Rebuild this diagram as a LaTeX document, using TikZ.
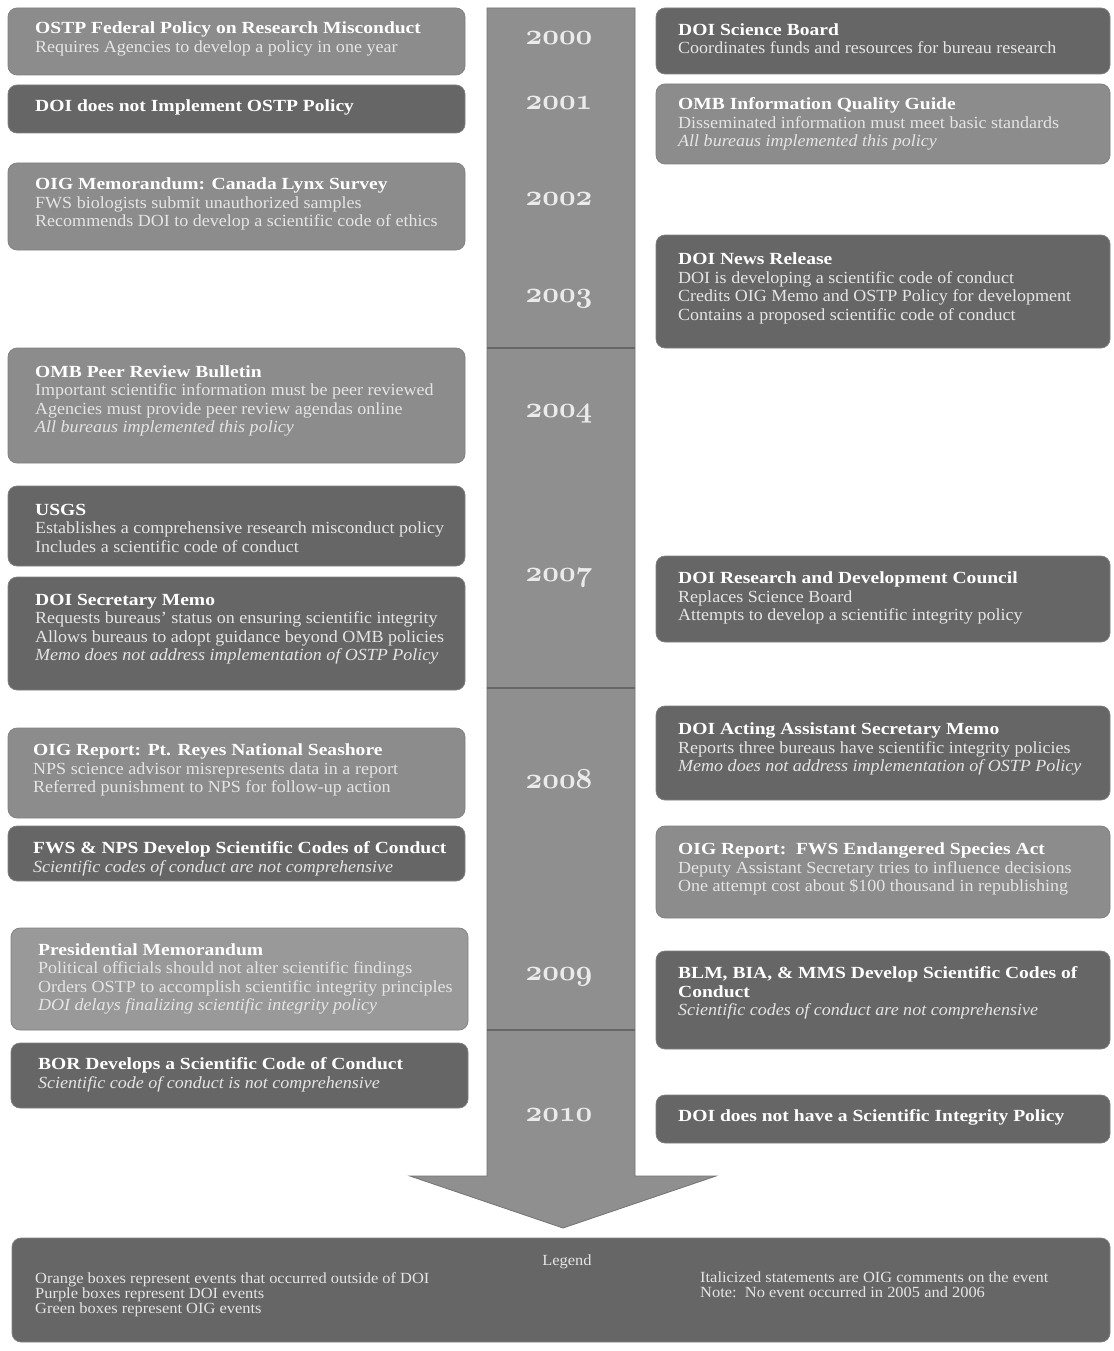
\documentclass[tikz,border=0pt]{standalone}
\usepackage{fontspec}
\setmainfont[FakeStretch=1.06, BoldFeatures={FakeStretch=1.15}]{Liberation Serif}
\DeclareFontFamily{OML}{yrs}{\skewchar\font=127}
\DeclareFontShape{OML}{yrs}{b}{it}{<-> cmmib10}{}
\definecolor{lightbox}{gray}{0.55}
\definecolor{presbox}{gray}{0.60}
\definecolor{darkbox}{gray}{0.40}
\definecolor{arrowc}{gray}{0.56}
\newcommand\yearfont{\fontsize{29}{29}\usefont{OML}{yrs}{b}{it}}
\newcommand\ttl[1]{{\bfseries\color{white}#1}}
\tikzset{
  x=1pt, y=-1pt,
  evbox/.style={rectangle, rounded corners=9pt, inner sep=0pt, outer sep=0pt, draw=black!50, line width=0.7pt},
  lightev/.style={evbox, fill=lightbox},
  presev/.style={evbox, fill=presbox},
  darkev/.style={evbox, fill=darkbox},
  evtext/.style={anchor=west, align=left, inner sep=0pt, text=black!10, font=\fontsize{17}{18.5}\selectfont},
  legtext/.style={anchor=north west, align=left, inner sep=0pt, text=black!10, font=\fontsize{15.5}{15}\selectfont},
  yr/.style={anchor=base, inner sep=0pt, text=black!8, font=\yearfont},
  arrowbody/.style={fill=arrowc, draw=black!55, line width=0.8pt},
  segline/.style={draw=black!60, line width=1.2pt},
}
\begin{document}
\begin{tikzpicture}
\useasboundingbox (0,0) rectangle (1113,1351);
\fill[white] (0,0) rectangle (1113,1351);

% timeline arrow
\draw[arrowbody] (487,8) -- (635,8) -- (635,1176) -- (716,1176) -- (563,1228) -- (410,1176) -- (487,1176) -- cycle;
\draw[segline] (487,348) -- (635,348);
\draw[segline] (487,688) -- (635,688);
\draw[segline] (487,1030) -- (635,1030);

% years
\node[yr] (y2000) at (559,45) {2000};
\node[yr] (y2001) at (559,110) {2001};
\node[yr] (y2002) at (559,205) {2002};
\node[yr] (y2003) at (559,302) {2003};
\node[yr] (y2004) at (559,417) {2004};
\node[yr] (y2007) at (559,581) {2007};
\node[yr] (y2008) at (559,788) {2008};
\node[yr] (y2009) at (559,980) {2009};
\node[yr] (y2010) at (559,1121) {2010};

% left column
\node[lightev, minimum width=457, minimum height=67] (L1) at (236.5,41.5) {};
\node[evtext] (t1) at ([xshift=27]L1.west |- 0,39) {\ttl{OSTP Federal Policy on Research Misconduct}\\Requires Agencies to develop a policy in one year};
\node[darkev, minimum width=457, minimum height=48] (L2) at (236.5,109) {};
\node[evtext] (t2) at ([xshift=27]L2.west |- 0,107) {\ttl{DOI does not Implement OSTP Policy}};
\node[lightev, minimum width=457, minimum height=87] (L3) at (236.5,206.5) {};
\node[evtext] (t3) at ([xshift=27]L3.west |- 0,204) {\ttl{OIG Memorandum: Canada Lynx Survey}\\FWS biologists submit unauthorized samples\\Recommends DOI to develop a scientific code of ethics};
\node[lightev, minimum width=457, minimum height=115] (L4) at (236.5,405.5) {};
\node[evtext] (t4) at ([xshift=27]L4.west |- 0,401) {\ttl{OMB Peer Review Bulletin}\\Important scientific information must be peer reviewed\\Agencies must provide peer review agendas online\\\textit{All bureaus implemented this policy}};
\node[darkev, minimum width=457, minimum height=80] (L5) at (236.5,526) {};
\node[evtext] (t5) at ([xshift=27]L5.west |- 0,528) {\ttl{USGS}\\Establishes a comprehensive research misconduct policy\\Includes a scientific code of conduct};
\node[darkev, minimum width=457, minimum height=113] (L6) at (236.5,633.5) {};
\node[evtext] (t6) at ([xshift=27]L6.west |- 0,629) {\ttl{DOI Secretary Memo}\\Requests bureaus' status on ensuring scientific integrity\\Allows bureaus to adopt guidance beyond OMB policies\\\textit{Memo does not address implementation of OSTP Policy}};
\node[lightev, minimum width=457, minimum height=90] (L7) at (236.5,773) {};
\node[evtext] (t7) at ([xshift=25]L7.west |- 0,770) {\ttl{OIG Report: Pt. Reyes National Seashore}\\NPS science advisor misrepresents data in a report\\Referred punishment to NPS for follow-up action};
\node[darkev, minimum width=457, minimum height=55] (L8) at (236.5,853.5) {};
\node[evtext] (t8) at ([xshift=25]L8.west |- 0,859) {\ttl{FWS \& NPS Develop Scientific Codes of Conduct}\\\textit{Scientific codes of conduct are not comprehensive}};
\node[presev, minimum width=457, minimum height=102] (L9) at (239.5,979) {};
\node[evtext] (t9) at ([xshift=27]L9.west |- 0,979) {\ttl{Presidential Memorandum}\\Political officials should not alter scientific findings\\Orders OSTP to accomplish scientific integrity principles\\\textit{DOI delays finalizing scientific integrity policy}};
\node[darkev, minimum width=457, minimum height=65] (L10) at (239.5,1075.5) {};
\node[evtext] (t10) at ([xshift=27]L10.west |- 0,1075) {\ttl{BOR Develops a Scientific Code of Conduct}\\\textit{Scientific code of conduct is not comprehensive}};

% right column
\node[darkev, minimum width=454, minimum height=66] (R1) at (883,41) {};
\node[evtext] (s1) at ([xshift=22]R1.west |- 0,38.5) {\ttl{DOI Science Board}\\Coordinates funds and resources for bureau research};
\node[lightev, minimum width=454, minimum height=80] (R2) at (883,124) {};
\node[evtext] (s2) at ([xshift=22]R2.west |- 0,124) {\ttl{OMB Information Quality Guide}\\Disseminated information must meet basic standards\\\textit{All bureaus implemented this policy}};
\node[darkev, minimum width=454, minimum height=113] (R3) at (883,291.5) {};
\node[evtext] (s3) at ([xshift=22]R3.west |- 0,288.5) {\ttl{DOI News Release}\\DOI is developing a scientific code of conduct\\Credits OIG Memo and OSTP Policy for development\\Contains a proposed scientific code of conduct};
\node[darkev, minimum width=454, minimum height=86] (R4) at (883,599) {};
\node[evtext] (s4) at ([xshift=22]R4.west |- 0,598) {\ttl{DOI Research and Development Council}\\Replaces Science Board\\Attempts to develop a scientific integrity policy};
\node[darkev, minimum width=454, minimum height=94] (R5) at (883,753) {};
\node[evtext] (s5) at ([xshift=22]R5.west |- 0,749) {\ttl{DOI Acting Assistant Secretary Memo}\\Reports three bureaus have scientific integrity policies\\\textit{Memo does not address implementation of OSTP Policy}};
\node[lightev, minimum width=454, minimum height=92] (R6) at (883,872) {};
\node[evtext] (s6) at ([xshift=22]R6.west |- 0,869) {\ttl{OIG Report:\ \ FWS Endangered Species Act}\\Deputy Assistant Secretary tries to influence decisions\\One attempt cost about \$100 thousand in republishing};
\node[darkev, minimum width=454, minimum height=98] (R7) at (883,1000) {};
\node[evtext] (s7) at ([xshift=22]R7.west |- 0,993) {\ttl{BLM, BIA, \& MMS Develop Scientific Codes of}\\\ttl{Conduct}\\\textit{Scientific codes of conduct are not comprehensive}};
\node[darkev, minimum width=454, minimum height=48] (R8) at (883,1119) {};
\node[evtext] (s8) at ([xshift=22]R8.west |- 0,1117) {\ttl{DOI does not have a Scientific Integrity Policy}};

% legend
\node[darkev, minimum width=1098, minimum height=104] (leg) at (561,1290) {};
\node[anchor=center, inner sep=0pt, text=black!10, font=\fontsize{15.5}{15}\selectfont] (legt) at (567,1262) {Legend};
\node[legtext] (leg1) at (35,1272) {Orange boxes represent events that occurred outside of DOI\\Purple boxes represent DOI events\\Green boxes represent OIG events};
\node[legtext] (leg2) at (700,1272) {Italicized statements are OIG comments on the event\\Note:\ \ No event occurred in 2005 and 2006};
\end{tikzpicture}
\end{document}
